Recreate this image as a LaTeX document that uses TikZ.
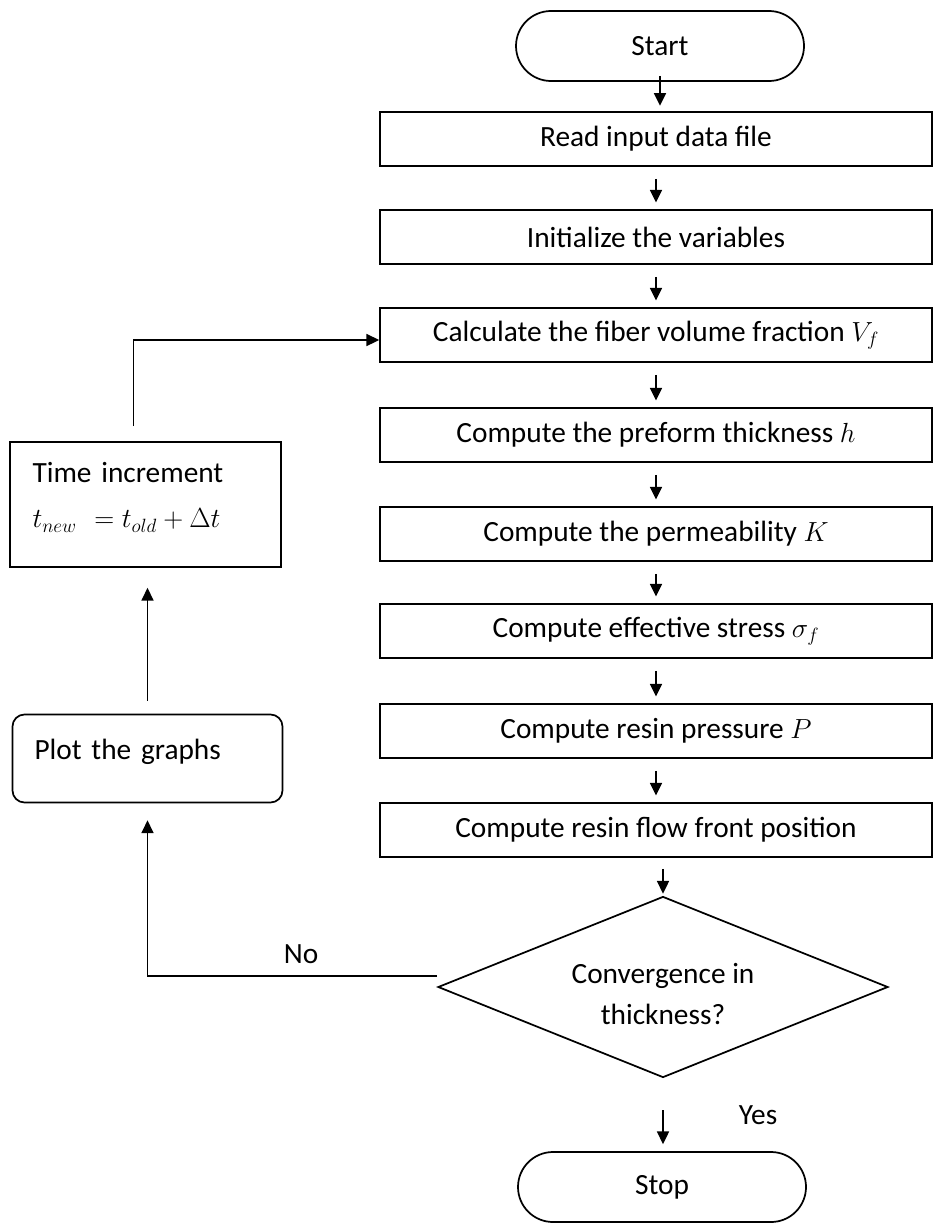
\documentclass[tikz,border=0pt]{standalone}
\usepackage{fontspec}
\setmainfont{Carlito}
\usetikzlibrary{arrows.meta,shapes.geometric}

\begin{document}
\begin{tikzpicture}[
  x=0.75pt, y=-0.75pt,
  every node/.style={font=\fontsize{22}{26}\selectfont},
  terminal/.style={draw, line width=1.3pt, rounded corners=26.25pt, minimum width=216pt, minimum height=52.5pt},
  process/.style={draw, line width=1.3pt, minimum width=414pt, minimum height=40.5pt, inner sep=0pt},
  sidebox/.style={draw, line width=1.3pt, minimum width=203.25pt, inner xsep=16.5pt, text width=169.5pt, align=left},
  decision/.style={draw, diamond, aspect=2.49, line width=1.3pt, minimum width=337.5pt, minimum height=135.75pt, inner sep=0pt, align=center},
  arrow/.style={-{Triangle[length=9.5pt,width=9pt]}, line width=1.3pt},
  shortarrow/.style={arrow, shorten <=9pt, shorten >=5pt}
]
\useasboundingbox (0,0) rectangle (934,1228);
% main column
\node[terminal] (start) at (660,46) {Start};
\node[process] (read) at (656,139) {Read input data file};
\node[process] (init) at (656,237) {Initialize the variables};
\node[process] (calc) at (656,335) {Calculate the fiber volume fraction $V_f$};
\node[process] (thick) at (656,435) {Compute the preform thickness $h$};
\node[process] (perm) at (656,534) {Compute the permeability $K$};
\node[process] (stress) at (656,631) {Compute effective stress $\sigma_f$};
\node[process] (press) at (656,731) {Compute resin pressure $P$};
\node[process] (flow) at (656,830) {Compute resin flow front position};
\node[decision] (dec) at (663,987) {Convergence in\\[5pt] thickness?\\[-36pt]\mbox{}};
\node[terminal] (stop) at (662,1187) {Stop};
% side column
\node[sidebox, minimum height=93.75pt] (timeinc) at (145.5,504.5) {Time increment\\[8pt]$t_{new}\ = t_{old} + \Delta t$\\[-12pt]\mbox{}};
\node[sidebox, rounded corners=9pt, minimum width=198.75pt, minimum height=66pt, text depth=14pt] (plot) at (147.5,758.5) {Plot the graphs};
% Arrows
\draw[arrow, shorten <=-4.5pt, shorten >=4pt] (start.south) -- (start.south |- read.north);
\draw[shortarrow] (read) -- (init);
\draw[shortarrow] (init) -- (calc);
\draw[shortarrow] (calc) -- (thick);
\draw[shortarrow] (thick) -- (perm);
\draw[shortarrow] (perm) -- (stress);
\draw[shortarrow] (stress) -- (press);
\draw[shortarrow] (press) -- (flow);
\draw[arrow, shorten <=8.25pt, shorten >=1.5pt] (dec.north |- flow.south) -- (dec.north);
\draw[arrow, shorten <=24pt, shorten >=5.25pt] (dec.south) -- (dec.south |- stop.north)
  node[midway, right=53pt] {Yes};
\draw[arrow, shorten >=12.75pt] ([yshift=8.25pt]dec.west) -| (plot.south)
  node[pos=0.235, above=5pt] {No};
\draw[arrow, shorten <=9.75pt, shorten >=15pt] (plot.north) -- (plot.north |- timeinc.south);
\draw[arrow, shorten <=11.25pt] ([xshift=-9pt]timeinc.north) |- ([yshift=-3.75pt]calc.west);
\end{tikzpicture}
\end{document}
